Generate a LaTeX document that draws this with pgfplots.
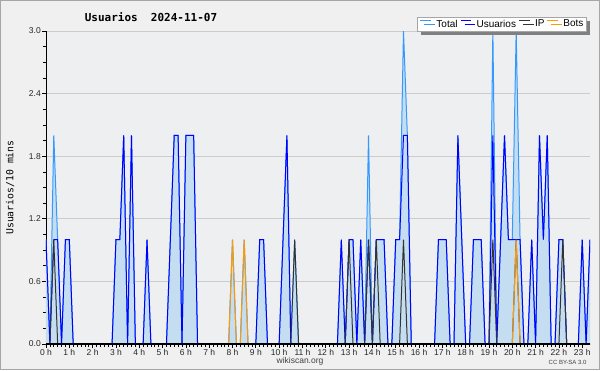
\documentclass[border=0pt]{standalone}
\usepackage{pgfplots}
\pgfplotsset{compat=1.18}
\usepackage{pgfplotstable}
\usepackage{fontspec}
\setmainfont{Liberation Sans}
\newfontfamily\monofont{DejaVu Sans Mono}
\usetikzlibrary{shadows}
\definecolor{totline}{HTML}{3399FF}
\definecolor{totfill}{HTML}{C5DDF1}
\definecolor{usr}{HTML}{0000FF}
\definecolor{ipc}{HTML}{333333}
\definecolor{bot}{HTML}{FF9900}
\definecolor{bgouter}{HTML}{F0F0F0}
\definecolor{bgplot}{HTML}{EEEFF1}
\definecolor{gridc}{HTML}{CCCCCC}

\pgfplotstableread{
i T U IP B
0 1 1 0 0
1 0 0 0 0
2 2 1 1 0
3 1 1 0 0
4 0 0 0 0
5 1 1 0 0
6 1 1 0 0
7 0 0 0 0
8 0 0 0 0
9 0 0 0 0
10 0 0 0 0
11 0 0 0 0
12 0 0 0 0
13 0 0 0 0
14 0 0 0 0
15 0 0 0 0
16 0 0 0 0
17 0 0 0 0
18 1 1 0 0
19 1 1 0 0
20 2 2 0 0
21 0 0 0 0
22 2 2 0 0
23 0 0 0 0
24 0 0 0 0
25 0 0 0 0
26 1 1 0 0
27 0 0 0 0
28 0 0 0 0
29 0 0 0 0
30 0 0 0 0
31 0 0 0 0
32 1 1 0 0
33 2 2 0 0
34 2 2 0 0
35 0 0 0 0
36 2 2 0 0
37 2 2 0 0
38 2 2 0 0
39 0 0 0 0
40 0 0 0 0
41 0 0 0 0
42 0 0 0 0
43 0 0 0 0
44 0 0 0 0
45 0 0 0 0
46 0 0 0 0
47 0 0 0 0
48 1 0 0 1
49 0 0 0 0
50 0 0 0 0
51 1 0 0 1
52 0 0 0 0
53 0 0 0 0
54 0 0 0 0
55 1 1 0 0
56 1 1 0 0
57 0 0 0 0
58 0 0 0 0
59 0 0 0 0
60 0 0 0 0
61 1 1 0 0
62 2 2 0 0
63 0 0 0 0
64 1 0 1 0
65 0 0 0 0
66 0 0 0 0
67 0 0 0 0
68 0 0 0 0
69 0 0 0 0
70 0 0 0 0
71 0 0 0 0
72 0 0 0 0
73 0 0 0 0
74 0 0 0 0
75 0 0 0 0
76 1 1 0 0
77 0 0 0 0
78 1 1 1 0
79 1 1 0 0
80 0 0 0 0
81 1 1 0 0
82 0 0 0 0
83 2 1 1 0
84 0 0 0 0
85 1 1 1 0
86 1 1 0 0
87 1 1 0 0
88 0 0 0 0
89 0 0 0 0
90 1 1 0 0
91 1 1 0 0
92 3 2 1 0
93 2 2 0 0
94 0 0 0 0
95 0 0 0 0
96 0 0 0 0
97 0 0 0 0
98 0 0 0 0
99 0 0 0 0
100 0 0 0 0
101 1 1 0 0
102 1 1 0 0
103 1 1 0 0
104 0 0 0 0
105 0 0 0 0
106 2 2 0 0
107 1 1 0 0
108 0 0 0 0
109 0 0 0 0
110 1 1 0 0
111 1 1 0 0
112 1 1 0 0
113 0 0 0 0
114 0 0 0 0
115 3 2 1 0
116 0 0 0 0
117 1 1 0 0
118 2 2 0 0
119 1 1 0 0
120 1 1 0 0
121 3 1 1 1
122 1 1 0 0
123 0 0 0 0
124 0 0 0 0
125 1 1 0 0
126 0 0 0 0
127 2 2 0 0
128 1 1 0 0
129 2 2 0 0
130 0 0 0 0
131 0 0 0 0
132 1 1 0 0
133 1 1 1 0
134 0 0 0 0
135 0 0 0 0
136 0 0 0 0
137 0 0 0 0
138 1 1 0 0
139 0 0 0 0
140 1 1 0 0
}\data

\begin{document}
\begin{tikzpicture}[x=1pt,y=1pt]
\path[use as bounding box] (0,0) rectangle (600,370);
\fill[bgouter] (0,0) rectangle (600,370);
\draw[color=black!35, line width=1pt] (0.5,0.5) rectangle (599.5,369.5);
\begin{axis}[
  at={(46pt,26pt)}, anchor=south west,
  scale only axis, width=544pt, height=313pt,
  xmin=0, xmax=140, ymin=0, ymax=3,
  axis background/.style={fill=bgplot},
  axis x line*=bottom, axis y line*=left,
  axis line style={black, line width=0.9pt},
  xtick={0,6,...,138},
  xticklabels={0 h,1 h,2 h,3 h,4 h,5 h,6 h,7 h,8 h,9 h,10 h,11 h,12 h,13 h,14 h,15 h,16 h,17 h,18 h,19 h,20 h,21 h,22 h,23 h},
  minor x tick num=5,
  ytick={0,0.6,1.2,1.8,2.4,3.0},
  minor y tick num=3,
  ymajorgrids, grid style={gridc, line width=0.8pt},
  tick align=outside,
  major tick length=3.5pt, minor tick length=3pt,
  tick style={black, line width=0.7pt},
  /pgf/number format/assume math mode=true,
  /pgf/number format/fixed,
  /pgf/number format/fixed zerofill,
  /pgf/number format/precision=1,
  ticklabel style={font=\fontsize{8.5}{9}\selectfont, text=black!85},
  xticklabel style={inner sep=1pt, yshift=-0.5pt},
  yticklabel style={inner sep=1.5pt},
  ylabel={Usuarios/10 mins},
  ylabel style={at={(axis description cs:-0.066,0.5)}, anchor=center, font=\monofont\fontsize{9.8}{10}\selectfont},
  legend columns=4,
  legend style={at={(rel axis cs:0.993,1.044)}, anchor=north east,
    draw=black!35, fill=white, font=\fontsize{10}{10}\selectfont,
    inner xsep=2.5pt, inner ysep=2.5pt,
    nodes={inner sep=0pt},
    /tikz/every odd column/.append style={column sep=5pt},
    /tikz/every even column/.append style={column sep=2.5pt},
    drop shadow={shadow xshift=4pt, shadow yshift=-3.5pt, fill=black!50, opacity=1}},
  legend image code/.code={\path (0pt,0pt); \draw[#1] (0pt,3.6pt) -- (10.5pt,3.6pt);},
]
\addplot[fill=totfill, draw=none, forget plot] table[x=i, y=T] {\data} \closedcycle;
\addplot[totline, line width=1pt] table[x=i, y=T] {\data};
\addplot[usr, line width=1pt] table[x=i, y=U] {\data};
\addplot[ipc, line width=1pt] table[x=i, y=IP] {\data};
\addplot[bot, line width=1pt] table[x=i, y=B] {\data};
\legend{Total, Usuarios, IP, Bots}
\draw[black, line width=1.3pt] (rel axis cs:0,0) -- (rel axis cs:1,0);
\end{axis}
\node[font=\monofont\bfseries\fontsize{11}{12}\selectfont] at (151,353) {Usuarios~~2024-11-07};
\node[font=\fontsize{8.5}{9}\selectfont, text=black!75] at (300,9) {wikiscan.org};
\node[font=\fontsize{6}{7}\selectfont, text=black!75, anchor=east] at (590,7.5) {CC BY-SA 3.0};
\end{tikzpicture}
\end{document}
